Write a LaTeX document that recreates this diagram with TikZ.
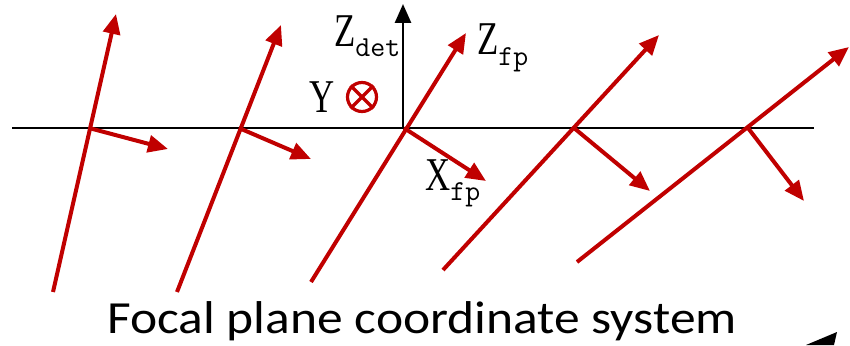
\documentclass[tikz,border=0pt]{standalone}
\usepackage{fontspec}
\setmainfont{Liberation Serif}
\newfontfamily\capfont{Carlito}
\usetikzlibrary{arrows.meta}
\definecolor{fpred}{HTML}{C00000}
\tikzset{
  redaxis/.style={draw=fpred, line width=4pt, -{Triangle[length=20pt,width=17pt]}},
  blackaxis/.style={draw=black, line width=2.8pt},
  lbl/.style={inner sep=0pt, anchor=base west, font=\fontsize{47}{47}\selectfont},
}
\newcommand{\axlbl}[2]{\scalebox{0.74}[1]{#1}\raisebox{-10pt}{\fontsize{29}{29}\selectfont\ttfamily #2}}
\begin{document}
\begin{tikzpicture}[x=1pt,y=-1pt]
\useasboundingbox (0,0) rectangle (850,345);
% horizontal detector line
\coordinate (hl) at (12,128);
\coordinate (hr) at (814,128);
\draw[blackaxis] (hl) -- (hr);
% vertical Z_det axis
\coordinate (o) at (403,128);
\coordinate (zt) at (403,4);
\draw[blackaxis, -{Triangle[length=19pt,width=16pt]}] (o) -- (zt);
% fans
\coordinate (b1) at (53,292);  \coordinate (t1) at (116,14);  \coordinate (c1) at (89,128);  \coordinate (x1) at (168,149);
\coordinate (b2) at (177,292); \coordinate (t2) at (281,25);  \coordinate (c2) at (239,128); \coordinate (x2) at (311,159);
\coordinate (b3) at (311,282); \coordinate (t3) at (466,33);  \coordinate (c3) at (404,128); \coordinate (x3) at (486,181);
\coordinate (b4) at (443,270); \coordinate (t4) at (659,35);  \coordinate (c4) at (574,128); \coordinate (x4) at (650,191);
\coordinate (b5) at (577,262); \coordinate (t5) at (849,47);  \coordinate (c5) at (748,128); \coordinate (x5) at (804,201);
\foreach \i in {1,...,5}{
  \draw[redaxis] (b\i) -- (t\i);
  \draw[redaxis] (c\i) -- (x\i);
}
% Y into page symbol
\node[draw=fpred, line width=3.2pt, circle, minimum size=29pt, inner sep=0pt] (ysym) at (362,97) {};
\draw[fpred, line width=3.2pt] (ysym.45) -- (ysym.225);
\draw[fpred, line width=3.2pt] (ysym.135) -- (ysym.315);
% labels
\node[lbl] (zdet) at (334,46) {\axlbl{Z}{det}};
\node[lbl] (zfp) at (477,55) {\axlbl{Z}{fp}};
\node[lbl] (ylbl) at (309,112) {\scalebox{0.74}[1]{Y}};
\node[lbl] (xfp) at (425,190) {\axlbl{X}{fp}};
% caption
\node[inner sep=0pt, anchor=base west, font=\capfont\fontsize{46}{46}\selectfont] (cap) at (107,333) {\scalebox{1.12}[1]{Focal plane coordinate system}};
% clipped black arrowhead at bottom right
\coordinate (k1) at (837,332);
\coordinate (k2) at (806,345);
\coordinate (k3) at (834,345);
\fill[black] (k1) -- (k2) -- (k3) -- cycle;
\end{tikzpicture}
\end{document}
